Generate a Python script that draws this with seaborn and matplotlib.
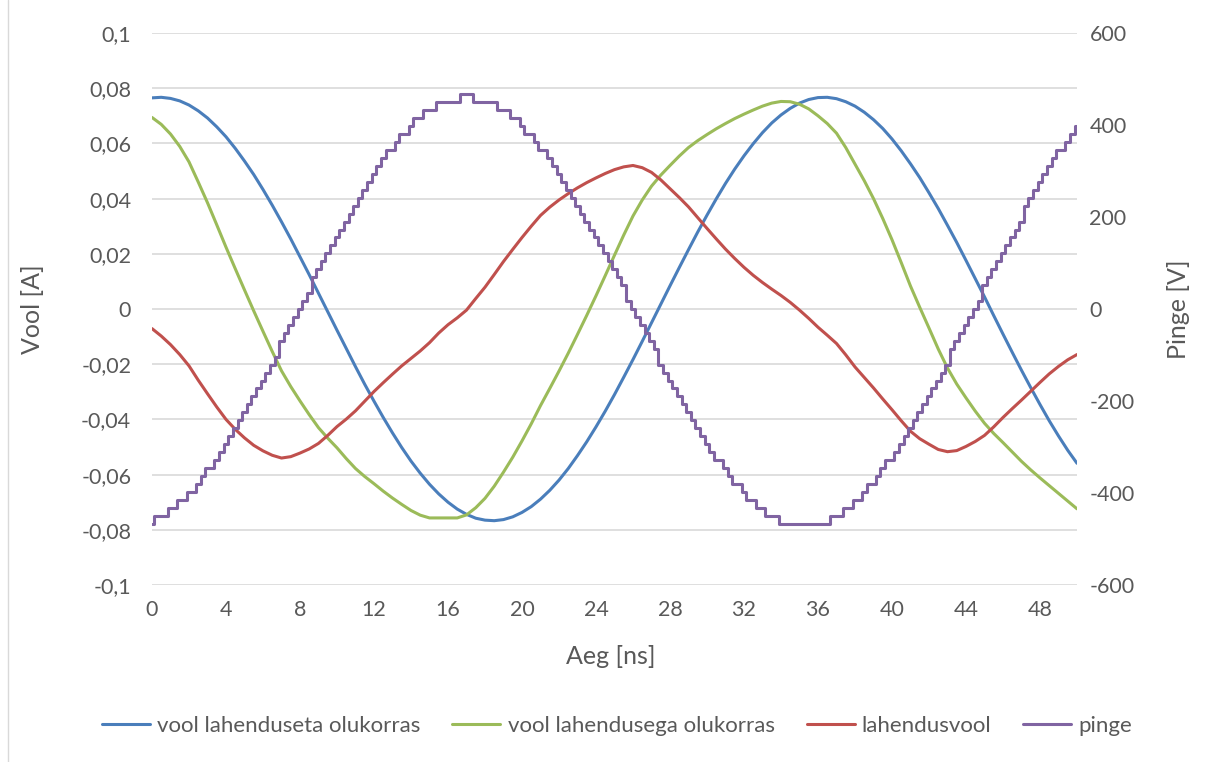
import numpy as np
import matplotlib
matplotlib.use("Agg")
import matplotlib.pyplot as plt
import seaborn as sns
from matplotlib.ticker import FuncFormatter
from matplotlib.lines import Line2D

# ---------------- data ----------------
aeg = [i * 0.5 for i in range(101)]  # ns

vool_lahenduseta = [
    0.0765, 0.0767, 0.0763, 0.0754, 0.0739, 0.0718, 0.0692, 0.0660, 0.0624, 0.0582,
    0.0536, 0.0487, 0.0433, 0.0376, 0.0316, 0.0254, 0.0189, 0.0124, 0.0057, -0.0010,
    -0.0077, -0.0143, -0.0209, -0.0273, -0.0334, -0.0393, -0.0449, -0.0502, -0.0551, -0.0595,
    -0.0635, -0.0670, -0.0700, -0.0725, -0.0744, -0.0758, -0.0765, -0.0767, -0.0763, -0.0753,
    -0.0737, -0.0716, -0.0689, -0.0657, -0.0620, -0.0578, -0.0531, -0.0481, -0.0427, -0.0370,
    -0.0310, -0.0247, -0.0183, -0.0117, -0.0050, 0.0017, 0.0084, 0.0150, 0.0215, 0.0279,
    0.0340, 0.0399, 0.0455, 0.0507, 0.0555, 0.0599, 0.0639, 0.0674, 0.0703, 0.0727,
    0.0746, 0.0759, 0.0766, 0.0767, 0.0762, 0.0751, 0.0735, 0.0713, 0.0686, 0.0654,
    0.0616, 0.0573, 0.0526, 0.0476, 0.0421, 0.0364, 0.0303, 0.0241, 0.0176, 0.0110,
    0.0044, -0.0024, -0.0091, -0.0157, -0.0222, -0.0285, -0.0346, -0.0405, -0.0460, -0.0512,
    -0.0559]

vool_lahendusega = [
    0.0694, 0.0669, 0.0634, 0.0589, 0.0533, 0.0460, 0.0385, 0.0305, 0.0224, 0.0146,
    0.0069, -0.0007, -0.0081, -0.0154, -0.0224, -0.0281, -0.0333, -0.0383, -0.0430, -0.0468,
    -0.0503, -0.0542, -0.0578, -0.0607, -0.0633, -0.0660, -0.0685, -0.0708, -0.0730, -0.0747,
    -0.0757, -0.0757, -0.0757, -0.0757, -0.0746, -0.0720, -0.0686, -0.0642, -0.0591, -0.0537,
    -0.0478, -0.0416, -0.0350, -0.0288, -0.0225, -0.0160, -0.0092, -0.0023, 0.0048, 0.0121,
    0.0195, 0.0268, 0.0337, 0.0395, 0.0445, 0.0485, 0.0520, 0.0554, 0.0585, 0.0610,
    0.0632, 0.0653, 0.0672, 0.0690, 0.0706, 0.0721, 0.0735, 0.0746, 0.0752, 0.0751,
    0.0742, 0.0725, 0.0700, 0.0672, 0.0637, 0.0585, 0.0525, 0.0465, 0.0400, 0.0328,
    0.0251, 0.0168, 0.0083, 0.0006, -0.0069, -0.0145, -0.0214, -0.0272, -0.0322, -0.0370,
    -0.0414, -0.0451, -0.0484, -0.0518, -0.0552, -0.0583, -0.0612, -0.0640, -0.0668, -0.0696,
    -0.0724]

lahendusvool = [
    -0.0071, -0.0098, -0.0129, -0.0165, -0.0206, -0.0258, -0.0307, -0.0355, -0.0400, -0.0436,
    -0.0467, -0.0494, -0.0514, -0.0530, -0.0540, -0.0535, -0.0522, -0.0507, -0.0487, -0.0458,
    -0.0426, -0.0399, -0.0369, -0.0334, -0.0299, -0.0267, -0.0236, -0.0206, -0.0179, -0.0152,
    -0.0122, -0.0087, -0.0057, -0.0032, -0.0004, 0.0038, 0.0079, 0.0125, 0.0172, 0.0216,
    0.0259, 0.0300, 0.0339, 0.0369, 0.0395, 0.0418, 0.0439, 0.0458, 0.0475, 0.0491,
    0.0505, 0.0515, 0.0520, 0.0512, 0.0495, 0.0468, 0.0436, 0.0404, 0.0370, 0.0331,
    0.0292, 0.0254, 0.0217, 0.0183, 0.0151, 0.0122, 0.0096, 0.0072, 0.0049, 0.0024,
    -0.0004, -0.0034, -0.0066, -0.0095, -0.0125, -0.0166, -0.0210, -0.0248, -0.0286, -0.0326,
    -0.0365, -0.0405, -0.0443, -0.0470, -0.0490, -0.0509, -0.0517, -0.0513, -0.0498, -0.0480,
    -0.0458, -0.0427, -0.0393, -0.0361, -0.0330, -0.0298, -0.0266, -0.0235, -0.0208, -0.0184,
    -0.0165]

aeg_pinge = [i * 0.25 for i in range(201)]  # ns
pinge = [
    -466.6, -449.3, -449.3, -449.3, -432.0, -432.0, -414.7, -414.7, -397.4, -397.4,
    -380.2, -362.9, -345.6, -345.6, -328.3, -311.0, -293.8, -276.5, -259.2, -241.9,
    -224.6, -207.4, -190.1, -172.8, -155.5, -138.2, -121.0, -103.7, -69.1, -51.8,
    -34.6, -17.3, 0.0, 17.3, 34.6, 69.1, 86.4, 103.7, 121.0, 138.2,
    155.5, 172.8, 190.1, 207.4, 224.6, 241.9, 259.2, 276.5, 293.8, 311.0,
    328.3, 345.6, 345.6, 362.9, 380.2, 380.2, 397.4, 414.7, 414.7, 432.0,
    432.0, 432.0, 449.3, 449.3, 449.3, 449.3, 449.3, 466.6, 466.6, 466.6,
    449.3, 449.3, 449.3, 449.3, 449.3, 432.0, 432.0, 432.0, 414.7, 414.7,
    397.4, 380.2, 380.2, 362.9, 345.6, 345.6, 328.3, 311.0, 293.8, 276.5,
    259.2, 241.9, 224.6, 207.4, 190.1, 172.8, 155.5, 138.2, 121.0, 103.7,
    86.4, 69.1, 51.8, 17.3, 0.0, -17.3, -34.6, -51.8, -69.1, -86.4,
    -121.0, -138.2, -155.5, -172.8, -190.1, -207.4, -224.6, -241.9, -259.2, -276.5,
    -293.8, -311.0, -328.3, -328.3, -345.6, -362.9, -380.2, -380.2, -397.4, -414.7,
    -414.7, -432.0, -432.0, -449.3, -449.3, -449.3, -466.6, -466.6, -466.6, -466.6,
    -466.6, -466.6, -466.6, -466.6, -466.6, -466.6, -466.6, -449.3, -449.3, -449.3,
    -432.0, -432.0, -414.7, -414.7, -397.4, -380.2, -380.2, -362.9, -345.6, -328.3,
    -328.3, -311.0, -293.8, -276.5, -259.2, -241.9, -224.6, -207.4, -190.1, -172.8,
    -155.5, -138.2, -121.0, -86.4, -69.1, -51.8, -34.6, -17.3, 0.0, 17.3,
    51.8, 69.1, 86.4, 103.7, 121.0, 138.2, 155.5, 172.8, 190.1, 224.6,
    241.9, 259.2, 276.5, 293.8, 311.0, 328.3, 345.6, 345.6, 362.9, 380.2,
    397.4]

seeria_nimed = ["vool lahenduseta olukorras", "vool lahendusega olukorras",
                "lahendusvool", "pinge"]
x_ticks = list(range(0, 49, 4))
y_ticks = [-0.1, -0.08, -0.06, -0.04, -0.02, 0, 0.02, 0.04, 0.06, 0.08, 0.1]
y2_ticks = [-600, -400, -200, 0, 200, 400, 600]

# ---------------- style ----------------
BLUE = "#4A7EBB"
GREEN = "#9BBB59"
RED = "#C0504D"
PURPLE = "#8064A2"
TXT = "#595959"
GRID = "#D9D9D9"

sns.set_style("white")
plt.rcParams["font.family"] = ["Lato", "DejaVu Sans"]

W, H = 1213, 762
fig = plt.figure(figsize=(W / 100, H / 100), dpi=100)
L, R, T, B = 152, 1077, 33, 585
ax = fig.add_axes([L / W, 1 - B / H, (R - L) / W, (B - T) / H])
ax2 = ax.twinx()

LW = 2.2
sns.lineplot(x=aeg, y=vool_lahenduseta, ax=ax, color=BLUE, lw=LW)
sns.lineplot(x=aeg, y=vool_lahendusega, ax=ax, color=GREEN, lw=LW)
sns.lineplot(x=aeg, y=lahendusvool, ax=ax, color=RED, lw=LW)
sns.lineplot(x=aeg_pinge, y=pinge, ax=ax2, color=PURPLE, lw=LW, drawstyle="steps-mid")

ax.set_xlim(0, 50)
ax.set_ylim(-0.1, 0.1)
ax2.set_ylim(-600, 600)
ax.set_xticks(x_ticks)
ax.set_yticks(y_ticks)
ax2.set_yticks(y2_ticks)

def komaga(v, pos):
    s = "{:g}".format(round(v, 2))
    return s.replace(".", ",")

ax.yaxis.set_major_formatter(FuncFormatter(komaga))
ax2.yaxis.set_major_formatter(FuncFormatter(lambda v, p: "{:d}".format(int(round(v)))))

ax.yaxis.grid(True, color=GRID, lw=1.2)
ax.xaxis.grid(False)
ax2.grid(False)
ax.set_axisbelow(True)
for a in (ax, ax2):
    for s in a.spines.values():
        s.set_visible(False)
FS_TICK = 15.5
ax.tick_params(axis="both", length=0, labelsize=FS_TICK, labelcolor=TXT)
ax.tick_params(axis="y", pad=15)
ax.tick_params(axis="x", pad=11)
ax2.tick_params(axis="y", length=0, labelsize=FS_TICK, labelcolor=TXT, pad=9)
ax.set_xlabel("")
ax.set_ylabel("")
ax2.set_ylabel("")

fig.text(33 / W, 1 - 309 / H, "Vool [A]", rotation=90, ha="center", va="center",
         fontsize=18, color=TXT)
fig.text(1178 / W, 1 - 309 / H, "Pinge [V]", rotation=90, ha="center", va="center",
         fontsize=18, color=TXT)
fig.text(611 / W, 1 - 657 / H, "Aeg [ns]", ha="center", va="center",
         fontsize=18, color=TXT)

handles = [Line2D([], [], color=c, lw=LW) for c in (BLUE, GREEN, RED, PURPLE)]
fig.legend(handles, seeria_nimed, loc="center", bbox_to_anchor=(617 / W, 1 - 726 / H),
           ncol=4, frameon=False, fontsize=16, labelcolor=TXT,
           handlelength=2.16, handletextpad=0.32, columnspacing=1.44)

# chart-area border (only the left edge is visible in the reference)
fig.add_artist(Line2D([7.5 / W, 7.5 / W], [0, 1], transform=fig.transFigure,
                      color=GRID, lw=1))

fig.savefig("out.png", dpi=100)
